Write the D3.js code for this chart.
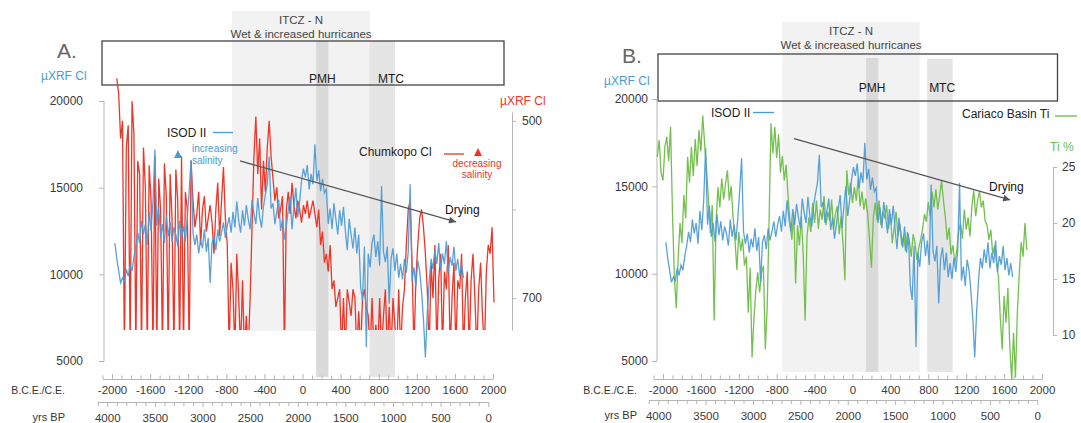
<!DOCTYPE html>
<html>
<head>
<meta charset="utf-8">
<script src="https://cdn.jsdelivr.net/npm/d3@7"></script>
<style>
body{margin:0;background:#fff;}
svg{display:block;font-family:"Liberation Sans",Arial,sans-serif;}
</style>
</head>
<body>
<svg id="s" width="1081" height="423"></svg>
<script>
// ISOD II uXRF Cl (left axis), one value every 20 yr from 1970 BCE
var isodStart = -1970, isodStep = 20;
var isodCl = [
  11800,10900,10200,9500,9800,9600,10300,9900,10500,10200,
  11000,11600,12400,11800,13100,12300,12900,11700,13600,12500,
  14200,17200,12800,13900,12100,12900,11800,13400,12200,13000,
  11900,12700,12300,11600,13100,12100,12800,11900,13200,14800,
  16600,12400,11700,12300,11200,12000,11500,12600,11300,12100,
  9500,11800,12200,11400,12600,11900,12400,13000,12100,12800,
  13300,12400,13600,12700,14200,13100,12400,13700,12800,14000,
  13200,12600,14300,13500,12900,14400,13300,12700,13900,14600,
  15200,16800,13800,14100,12900,13600,14300,12500,13200,12000,
  12800,13700,14500,12600,13900,15000,13300,14200,15400,16100,
  15600,16300,14900,15800,15200,17500,15400,16000,14800,15500,
  14700,14900,12900,13800,12600,14100,13200,12300,13700,12800,
  13900,12500,11400,13200,12300,11500,12700,11200,12300,9300,
  8500,11600,5800,11200,10400,11800,12300,11000,11900,10500,
  15100,11300,10700,11600,8300,10900,11500,10200,11200,9800,
  10600,9700,10900,10100,11300,15200,9600,10400,9300,10800,
  10200,9000,7400,5200,7800,9600,10900,10300,11400,10600,
  11800,10300,11200,10600,11900,10100,11000,10500,11600,10200,
  10900,9900,10600,9800
];

// Chumkopo Cl (inverted right axis), every 20 yr from 1950 BCE
var chumStart = -1950, chumStep = 20;
var chumCl = [
  452,470,520,500,760,530,505,760,478,515,
  760,545,560,760,530,575,760,550,590,760,
  540,760,565,600,760,548,585,760,560,610,
  760,555,590,760,540,760,580,600,760,545,
  590,620,605,580,640,600,585,625,610,595,
  615,650,600,570,630,590,552,610,640,760,
  660,690,760,650,700,760,680,760,720,760,
  700,620,540,495,560,520,600,545,580,530,
  500,540,565,590,575,610,600,585,760,600,
  580,605,570,595,610,590,600,615,595,605,
  590,610,600,590,605,620,600,640,625,660,
  650,670,640,690,680,710,700,690,760,700,
  760,690,705,720,690,700,760,715,760,700,
  690,710,720,760,700,760,730,760,700,760,
  720,690,760,710,760,700,730,760,690,760,
  710,690,640,600,590,660,760,680,640,610,
  600,620,650,690,760,660,700,640,760,680,
  650,760,670,690,640,760,700,660,760,680,
  690,650,760,700,670,760,680,650,700,760,
  690,660,720,760,670,640,650,620,705
];

// Cariaco Basin Ti %, every 20 yr from 2060 BCE
var tiStart = -2060, tiStep = 20;
var cariacoTi = [
  25.9,27.4,24.5,23.8,26.8,27.7,25.5,28.6,21.0,15.2,
  12.4,16.8,20.0,18.2,22.5,20.4,25.9,23.6,26.8,24.2,
  27.5,25.1,28.3,26.4,29.6,27.0,24.8,22.1,19.1,21.6,
  11.3,20.0,23.2,21.4,24.0,22.1,23.5,24.7,22.0,23.3,
  20.5,18.5,15.8,19.2,17.5,18.6,16.2,17.0,12.0,16.0,
  8.0,11.5,14.0,15.6,13.8,15.5,16.2,8.7,12.5,20.2,
  28.9,26.2,28.6,25.8,27.9,24.5,26.0,23.8,25.2,22.4,
  20.1,18.5,21.0,14.6,19.8,18.0,20.6,17.2,11.3,18.8,
  20.5,19.2,21.8,20.0,22.0,19.5,21.2,20.3,22.4,19.8,
  21.0,20.2,22.1,19.4,20.8,21.5,19.0,20.6,18.2,14.9,
  24.7,22.5,23.6,21.8,23.2,22.0,24.0,21.5,22.8,21.2,
  22.2,20.8,18.5,16.0,20.5,21.8,20.2,22.0,19.8,21.0,
  20.4,21.6,19.5,20.8,18.2,19.6,21.0,18.8,19.9,18.0,
  18.9,17.5,19.2,18.4,17.0,19.0,18.2,16.7,17.8,18.5,
  19.5,20.8,20.1,21.9,20.6,22.8,21.4,23.0,21.2,22.4,
  23.8,22.0,20.5,18.5,19.6,17.2,18.0,16.4,17.5,19.2,
  20.0,18.6,21.2,19.4,20.5,18.8,21.5,22.9,20.6,22.0,
  22.8,21.4,22.0,20.2,19.8,18.5,19.4,17.2,18.0,16.4,
  15.2,11.5,8.7,13.5,11.1,14.2,9.0,6.0,10.2,6.2,
  12.0,15.5,18.3,17.0,20.0,17.6
];

// periods (years CE)
var itczN = [-740, 710];
var pmh = [143, 272];
var mtcA = [703, 971];
var mtcB = [788, 1057];

var clLeftTicks = [5000, 10000, 15000, 20000];
var clRightTicks = [500, 600, 700];
var clRightLabels = [500, 700];
var tiTicks = [10, 15, 20, 25];
var ceTicks = d3.range(-2100, 2001, 100);
var bpTicks = d3.range(4100, -1, -100);

// drying trend arrows [year, uXRF Cl]
var dryingA = [[-656, 16540], [1612, 13020]];
var dryingB = [[-617, 17730], [1664, 14220]];

var BLUE = '#4b9ad6', RED = '#ee3527', GREEN = '#6bbd45';

var s = d3.select('#s');
s.append('rect').attr('width', 1081).attr('height', 423).attr('fill', '#fff');

var defs = s.append('defs');
defs.append('marker')
  .attr('id', 'arr').attr('viewBox', '0 0 10 10')
  .attr('refX', 10).attr('refY', 5)
  .attr('markerWidth', 9).attr('markerHeight', 7)
  .attr('markerUnits', 'userSpaceOnUse')
  .attr('orient', 'auto')
  .append('path').attr('d', 'M0,0L10,5L0,10Z').attr('fill', '#555');

function pts(start, step, vals){
  return vals.map(function(v, i){ return [start + i*step, v]; });
}

function styleAxis(g, size){
  g.attr('font-family', '"Liberation Sans",Arial,sans-serif');
  g.select('.domain').attr('stroke', '#b5b5b5');
  g.selectAll('.tick line').attr('stroke', '#b5b5b5');
  g.selectAll('text').attr('fill', '#3a3a3a').style('font-size', size + 'px');
}

function txt(x, y, t, size, fill, anchor){
  return s.append('text').attr('x', x).attr('y', y).text(t)
    .attr('font-size', size).attr('fill', fill)
    .attr('text-anchor', anchor || 'start');
}

function tri(cx, cy, fill){
  s.append('path').attr('d', 'M' + (cx-4) + ',' + (cy+4) + 'L' + cx + ',' + (cy-4) + 'L' + (cx+4) + ',' + (cy+4) + 'Z')
    .attr('fill', fill);
}

function panel(o){
  var x = d3.scaleLinear().domain([-2100, 2000]).range(o.xr);
  var bp = d3.scaleLinear().domain([4100, 0]).range([x(-2150), x(1950)]);
  var y = d3.scaleLinear().domain([5000, 20000]).range(o.yr);
  var g = s.append('g');

  // shaded periods
  g.append('rect').attr('x', x(itczN[0])).attr('width', x(itczN[1]) - x(itczN[0]))
    .attr('y', o.itczY[0]).attr('height', o.itczY[1] - o.itczY[0]).attr('fill', '#f2f2f2');
  g.append('rect').attr('x', x(pmh[0])).attr('width', x(pmh[1]) - x(pmh[0]))
    .attr('y', o.pmhY[0]).attr('height', o.pmhY[1] - o.pmhY[0]).attr('fill', '#dadada');
  g.append('rect').attr('x', x(o.mtc[0])).attr('width', x(o.mtc[1]) - x(o.mtc[0]))
    .attr('y', o.mtcY[0]).attr('height', o.mtcY[1] - o.mtcY[0]).attr('fill', '#e5e5e5');

  txt((x(itczN[0]) + x(itczN[1]))/2, o.itczTextY, 'ITCZ - N', 11.5, '#444', 'middle');
  txt((x(itczN[0]) + x(itczN[1]))/2, o.itczTextY + 14, 'Wet & increased hurricanes', 11.5, '#444', 'middle');

  g.append('rect').attr('x', o.box[0]).attr('y', o.box[1]).attr('width', o.box[2]).attr('height', o.box[3])
    .attr('fill', 'none').attr('stroke', '#444').attr('stroke-width', 1.3);

  txt((x(pmh[0]) + x(pmh[1]))/2, o.periodTextY, 'PMH', 12, '#1a1a1a', 'middle');
  txt(x(o.mtcLabel), o.periodTextY, 'MTC', 12, '#1a1a1a', 'middle');

  // left axis
  var ga = g.append('g').attr('transform', 'translate(' + o.axisX + ',0)')
    .call(d3.axisLeft(y).tickValues(clLeftTicks).tickSize(5).tickSizeOuter(0)
      .tickPadding(o.leftPad).tickFormat(function(d){ return String(d); }));
  ga.select('.domain').attr('d', 'M0,' + y(20000) + 'V' + y(5000));
  styleAxis(ga, 12);

  // CE axis (ticks up)
  var gc = g.append('g').attr('transform', 'translate(0,' + o.ceY + ')')
    .call(d3.axisBottom(x).tickValues(ceTicks).tickSize(-4).tickSizeOuter(0).tickPadding(7)
      .tickFormat(function(d){ return d % 400 === 0 ? String(d) : ''; }));
  gc.selectAll('.tick line').attr('y2', function(d){ return d % 400 === 0 ? -5 : -3.5; });
  styleAxis(gc, 11.5);

  // yrs BP axis (ticks down)
  var gb = g.append('g').attr('transform', 'translate(0,' + o.bpY + ')')
    .call(d3.axisBottom(bp).tickValues(bpTicks).tickSize(4).tickSizeOuter(0).tickPadding(8)
      .tickFormat(function(d){ return d % 500 === 0 ? String(d) : ''; }));
  gb.selectAll('.tick line').attr('y2', function(d){ return d % 500 === 0 ? 5 : 4; });
  styleAxis(gb, 11.5);

  txt(o.axisLabelX, o.ceY + 15, 'B.C.E./C.E.', 10.5, '#333', 'end');
  txt(o.axisLabelX, o.bpY + 19, 'yrs BP', 11, '#333', 'end');

  return {x: x, y: y, g: g};
}

var line = d3.line();

// ---------- panel A ----------
var A = panel({
  xr: [102.5, 493], yr: [361, 101], axisX: 104, leftPad: 16,
  itczY: [11, 331], pmhY: [41, 377], mtcY: [41, 377], mtc: mtcA, mtcLabel: 929,
  itczTextY: 24, periodTextY: 83, box: [102, 41, 402, 44],
  ceY: 379, bpY: 402, axisLabelX: 65
});

var rY = d3.scaleLinear().domain([490, 736]).range([112, 330]);
defs.append('clipPath').attr('id', 'clipRed').append('rect')
  .attr('x', 0).attr('y', 0).attr('width', 540).attr('height', 330);

A.g.append('path')
  .attr('d', line(pts(chumStart, chumStep, chumCl).map(function(d){ return [A.x(d[0]), rY(d[1])]; })))
  .attr('clip-path', 'url(#clipRed)')
  .attr('fill', 'none').attr('stroke', RED).attr('stroke-width', 1.3);

A.g.append('path')
  .attr('d', line(pts(isodStart, isodStep, isodCl).map(function(d){ return [A.x(d[0]), A.y(d[1])]; })))
  .attr('fill', 'none').attr('stroke', BLUE).attr('stroke-width', 1.3).attr('opacity', 0.92);

var gr = A.g.append('g').attr('transform', 'translate(512,0)')
  .call(d3.axisRight(rY).tickValues(clRightTicks).tickSize(4).tickSizeOuter(0).tickPadding(6)
    .tickFormat(function(d){ return clRightLabels.indexOf(d) >= 0 ? String(d) : ''; }));
styleAxis(gr, 12);

A.g.append('path')
  .attr('d', line(dryingA.map(function(d){ return [A.x(d[0]), A.y(d[1])]; })))
  .attr('stroke', '#555').attr('stroke-width', 1.3).attr('fill', 'none').attr('marker-end', 'url(#arr)');

txt(57, 58, 'A.', 21, '#666');
txt(41, 80, 'µXRF Cl', 12, BLUE);
txt(500, 105, 'µXRF Cl', 12, RED);
txt(167, 137, 'ISOD II', 12, '#222');
s.append('line').attr('x1', 213).attr('x2', 233).attr('y1', 132.5).attr('y2', 132.5).attr('stroke', BLUE).attr('stroke-width', 1.3);
tri(178, 154, BLUE);
txt(192, 152, 'increasing', 10, BLUE);
txt(192, 164, 'salinity', 10, BLUE);
txt(359, 156, 'Chumkopo Cl', 12, '#222');
s.append('line').attr('x1', 444).attr('x2', 464).attr('y1', 154).attr('y2', 154).attr('stroke', RED).attr('stroke-width', 1.3);
tri(478, 152, RED);
txt(477, 167, 'decreasing', 10, RED, 'middle');
txt(477, 178, 'salinity', 10, RED, 'middle');
txt(445, 214, 'Drying', 12, '#111');

// ---------- panel B ----------
var B = panel({
  xr: [653.5, 1042], yr: [361, 99], axisX: 657, leftPad: 4,
  itczY: [22, 372], pmhY: [58, 372], mtcY: [59, 372], mtc: mtcB, mtcLabel: 946,
  itczTextY: 35, periodTextY: 92, box: [658, 54, 399.5, 47],
  ceY: 379, bpY: 400, axisLabelX: 637
});

var tY = d3.scaleLinear().domain([10, 25]).range([335, 167]);

B.g.append('path')
  .attr('d', line(pts(tiStart, tiStep, cariacoTi).map(function(d){ return [B.x(d[0]), tY(d[1])]; })))
  .attr('fill', 'none').attr('stroke', GREEN).attr('stroke-width', 1.3).attr('opacity', 0.95);

B.g.append('path')
  .attr('d', line(pts(isodStart, isodStep, isodCl).map(function(d){ return [B.x(d[0]), B.y(d[1])]; })))
  .attr('fill', 'none').attr('stroke', BLUE).attr('stroke-width', 1.3).attr('opacity', 0.92);

var gt = B.g.append('g').attr('transform', 'translate(1053,0)')
  .call(d3.axisRight(tY).tickValues(tiTicks).tickSize(4).tickSizeOuter(0).tickPadding(5));
styleAxis(gt, 12);

B.g.append('path')
  .attr('d', line(dryingB.map(function(d){ return [B.x(d[0]), B.y(d[1])]; })))
  .attr('stroke', '#555').attr('stroke-width', 1.3).attr('fill', 'none').attr('marker-end', 'url(#arr)');

txt(622, 63, 'B.', 21, '#666');
txt(604, 85, 'µXRF Cl', 12, BLUE);
txt(1050, 151, 'Ti %', 12, GREEN);
txt(711, 117, 'ISOD II', 12, '#222');
s.append('line').attr('x1', 753).attr('x2', 774).attr('y1', 112.5).attr('y2', 112.5).attr('stroke', BLUE).attr('stroke-width', 1.3);
txt(962, 118, 'Cariaco Basin Ti', 12, '#222');
s.append('line').attr('x1', 1055).attr('x2', 1077).attr('y1', 116).attr('y2', 116).attr('stroke', GREEN).attr('stroke-width', 1.3);
txt(989, 191, 'Drying', 12, '#111');
</script>
</body>
</html>
